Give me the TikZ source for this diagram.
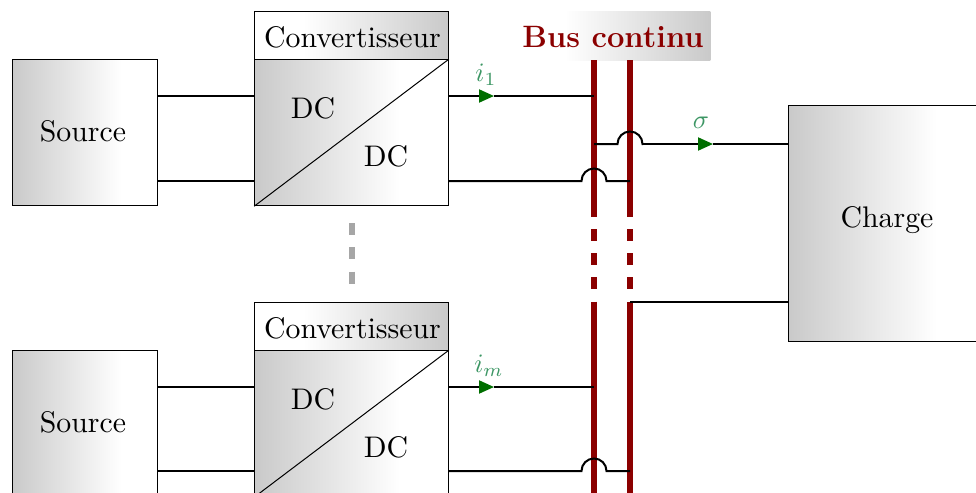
\documentclass[tikz,border=0pt]{standalone}
\usepackage{graphicx}
\usetikzlibrary{arrows.meta,calc}
\definecolor{busred}{RGB}{139,0,0}
\definecolor{flowgreen}{RGB}{0,110,0}
\definecolor{labgreen}{RGB}{60,150,100}
\definecolor{fadegray}{gray}{0.79}
\pgfdeclarehorizontalshading{fadeout}{100bp}{color(0bp)=(fadegray); color(25bp)=(fadegray); color(62.5bp)=(white); color(100bp)=(white)}
\pgfdeclarehorizontalshading{fadein}{100bp}{color(0bp)=(white); color(37.5bp)=(white); color(75bp)=(fadegray); color(100bp)=(fadegray)}
\tikzset{
  x=0.5pt,y=-0.5pt,
  txt/.style={font=\fontsize{10}{12}\selectfont,inner sep=0pt},
  blockbox/.style={draw=black,line width=0.5pt,inner sep=0pt,anchor=north west,shade,shading=fadeout},
  headbox/.style={draw=black,line width=0.5pt,inner sep=0pt,anchor=north west,shade,shading=fadein},
  wire/.style={line width=1pt,black},
  flow/.style={wire,-{Triangle[length=7.5pt,width=6.5pt,color=flowgreen]}},
  bussolid/.style={line width=3pt,busred},
  busdash/.style={line width=3pt,busred,dash pattern=on 6pt off 6.1pt},
  curlab/.style={text=labgreen,inner sep=0pt},
}
\newcommand{\curmath}[1]{\scalebox{1.33}{$#1$}}
\newcommand{\tx}[1]{\scalebox{1.49}{#1}}
\begin{document}
\begin{tikzpicture}
\useasboundingbox (0,0) rectangle (976,493);
\clip (0,0) rectangle (976,493);

% buses
\node[inner sep=0pt,anchor=north west,minimum width=97pt,minimum height=24.5pt,shade,shading=fadein] (bushead) at (516,11) {};
\node[inner sep=0pt,text=busred,font=\fontsize{15.45}{18}\selectfont\bfseries] (buslab) at (613,37) {Bus continu};
\coordinate (a1) at (594,60); \coordinate (a2) at (594,217); \coordinate (a3) at (594,302); \coordinate (a4) at (594,493);
\coordinate (b1) at (630,60); \coordinate (b2) at (630,217); \coordinate (b3) at (630,302); \coordinate (b4) at (630,493);
\draw[bussolid] (a1) -- (a2); \draw[bussolid] (a3) -- (a4);
\draw[bussolid] (b1) -- (b2); \draw[bussolid] (b3) -- (b4);
\draw[busdash] (594,229) -- (a3);
\draw[busdash] (630,229) -- (b3);

% upper branch
\node[blockbox,minimum width=72.8pt,minimum height=73pt] (s1) at (11.5,59.2) {};
\node[txt] (s1t) at (83,131) {\tx{Source}};
\node[headbox,minimum width=96.8pt,minimum height=24.85pt] (h1) at (254.2,10.5) {};
\node[txt] (h1t) at (352.5,37.5) {\tx{Convertisseur}};
\node[blockbox,minimum width=96.8pt,minimum height=73pt] (c1) at (254.2,59.2) {};
\draw[line width=0.5pt] (c1.south west) -- (c1.north east);
\node[txt] (c1a) at (313,108) {\tx{DC}};
\node[txt] (c1b) at (386,156) {\tx{DC}};

% lower branch
\node[blockbox,minimum width=72.8pt,minimum height=73pt] (s2) at (11.5,350.2) {};
\node[txt] (s2t) at (83,422) {\tx{Source}};
\node[headbox,minimum width=96.8pt,minimum height=24.85pt] (h2) at (254.2,301.5) {};
\node[txt] (h2t) at (352.5,328.5) {\tx{Convertisseur}};
\node[blockbox,minimum width=96.8pt,minimum height=73pt] (c2) at (254.2,350.2) {};
\draw[line width=0.5pt] (c2.south west) -- (c2.north east);
\node[txt] (c2a) at (313,399) {\tx{DC}};
\node[txt] (c2b) at (386,447) {\tx{DC}};

% charge
\node[blockbox,minimum width=99pt,minimum height=118.2pt] (ch) at (787.6,104.5) {};
\node[txt] (cht) at (887,220.5) {\tx{Charge}};

% grey dots
\coordinate (g1) at (352,223); \coordinate (g2) at (352,284);
\draw[line width=3pt,black!35,dash pattern=on 6pt off 6.15pt] (g1) -- (g2);

% source to converter wires
\draw[wire] (s1.east |- 0,96) -- (c1.west |- 0,96);
\draw[wire] (s1.east |- 0,181) -- (c1.west |- 0,181);
\draw[wire] (s2.east |- 0,387) -- (c2.west |- 0,387);
\draw[wire] (s2.east |- 0,471) -- (c2.west |- 0,471);

% output wires
\coordinate (t1) at (494,96); \coordinate (t2) at (494,387); \coordinate (t3) at (713,144);
\draw[flow] (c1.east |- t1) -- (t1);
\draw[wire] (t1) -- (a1 |- t1);
\draw[flow] (c2.east |- t2) -- (t2);
\draw[wire] (t2) -- (a1 |- t2);
\node[curlab] (li1) at (486,75) {\curmath{i_1}};
\node[curlab] (lim) at (489,366) {\curmath{i_m}};
\node[curlab] (lsg) at (701,123) {\curmath{\sigma}};

% bumped wires
\draw[wire] (c1.east |- 0,181) -- (581.5,181) arc[start angle=180,end angle=0,radius=6.25pt] -- (b1 |- 0,181);
\draw[wire] (c2.east |- 0,471) -- (581.5,471) arc[start angle=180,end angle=0,radius=6.25pt] -- (b1 |- 0,471);
\draw[wire] (a1 |- t3) -- (617.5,144) arc[start angle=180,end angle=0,radius=6.25pt] -- (643,144);
\draw[flow] (643,144) -- (t3);
\draw[wire] (t3) -- (ch.west |- t3);
\draw[wire] (b3) -- (ch.west |- b3);
\end{tikzpicture}
\end{document}
